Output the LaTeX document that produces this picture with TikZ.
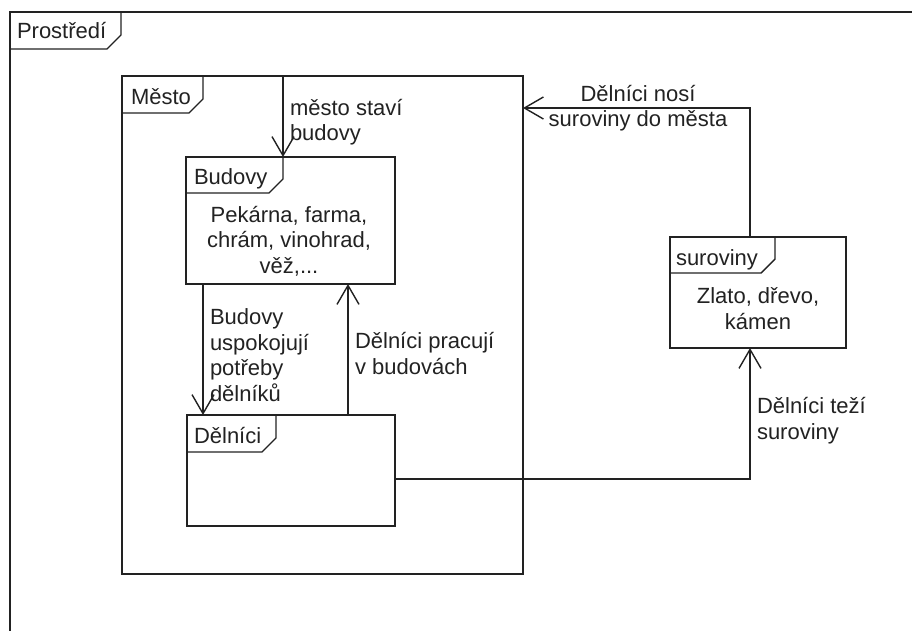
\documentclass[tikz,border=0pt]{standalone}
\usepackage{fontspec}
\setmainfont{Liberation Sans}
\usetikzlibrary{arrows.meta}
\definecolor{ink}{HTML}{222222}
\newcommand{\notchlabel}[3]{%
  \draw[ink, line width=1.4pt] ([yshift=-#3pt]#1.north west) -- ++({#2-14},0) -- ++(14,-14) -- ([xshift=#2pt]#1.north west);}
\begin{document}
\begin{tikzpicture}[x=1pt,y=-1pt,
  every node/.style={font=\fontsize{22}{25.5}\selectfont, text=ink, inner sep=0pt, outer sep=0pt},
  box/.style={draw=ink, line width=1.4pt, rectangle, anchor=north west},
  lbl/.style={anchor=base west},
  txtl/.style={anchor=base west, align=left},
  txtc/.style={anchor=base, align=center},
  arr/.style={draw=ink, line width=1.4pt, -{Straight Barb[length=19pt,width=22pt]}}]
\useasboundingbox (0,0) rectangle (912,631);
\fill[white] (0,0) rectangle (912,631);
\clip (0,0) rectangle (912,631);
% frames
\node[box, minimum width=1000pt, minimum height=700pt] (prostredi) at (10,12) {};
\node[box, minimum width=401pt, minimum height=498pt] (mesto) at (122,76) {};
\node[box, minimum width=209pt, minimum height=127pt] (budovy) at (186,157) {};
\node[box, minimum width=208pt, minimum height=111pt] (delnici) at (187,415) {};
\node[box, minimum width=176pt, minimum height=111pt] (suroviny) at (670,237) {};
\notchlabel{prostredi}{111}{37}
\notchlabel{mesto}{81}{37}
\notchlabel{budovy}{97}{36}
\notchlabel{delnici}{89}{37}
\notchlabel{suroviny}{105}{36}
% frame names
\node[lbl] (tprostredi) at (17,39) {Prostředí};
\node[lbl] (tmesto) at (131,105) {Město};
\node[lbl] (tbudovy) at (194,185) {Budovy};
\node[lbl] (tdelnici) at (194,443) {Dělníci};
\node[lbl] (tsuroviny) at (676,265) {suroviny};
% contents (base = last line)
\node[txtc] (budovytext) at (289,273) {Pekárna, farma,\\chrám, vinohrad,\\věž,...};
\node[txtc] (surtext) at (758,329) {Zlato, dřevo,\\kámen};
% connectors
\coordinate (x1) at (283,0);
\coordinate (x2) at (203,0);
\coordinate (x3) at (348,0);
\coordinate (c4) at (750,479);
\coordinate (c5) at (750,108);
\draw[arr] (mesto.north -| x1) -- (budovy.north -| x1);
\draw[arr] (budovy.south -| x2) -- (delnici.north -| x2);
\draw[arr] (delnici.north -| x3) -- (budovy.south -| x3);
\draw[arr] (delnici.east |- c4) -- (c4) -- (suroviny.south -| c4);
\draw[arr] (suroviny.north -| c5) -- (c5) -- (mesto.east |- c5);
% connector labels (base = last line)
\node[txtl] (l1) at (290,141) {město staví\\budovy};
\node[txtl] (l2) at (210,401) {Budovy\\uspokojují\\potřeby\\dělníků};
\node[txtl] (l3) at (355,374) {Dělníci pracují\\v budovách};
\node[txtc] (l4) at (638,127) {Dělníci nosí\\suroviny do města};
\node[txtl] (l5) at (757,439) {Dělníci teží\\suroviny};
\end{tikzpicture}
\end{document}
